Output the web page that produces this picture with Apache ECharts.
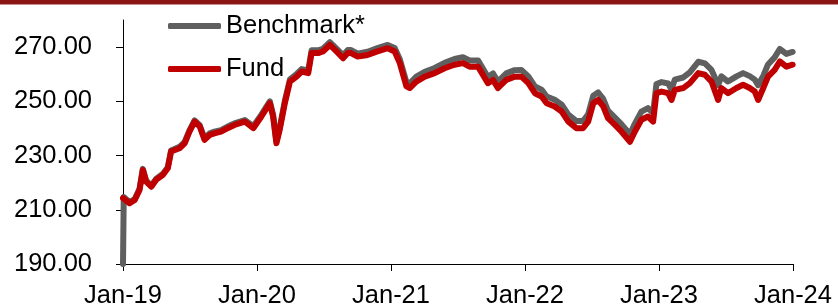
<!DOCTYPE html>
<html>
<head>
<meta charset="utf-8">
<script src="https://cdn.jsdelivr.net/npm/echarts@6/dist/echarts.min.js"></script>
<style>
html,body{margin:0;padding:0;background:#fff;}
#chart{width:838px;height:306px;}
</style>
</head>
<body>
<div id="chart"></div>
<script>
// ---- data ----
var fundDates = ["2019-01-01","2019-01-19","2019-02-02","2019-02-15","2019-02-24","2019-03-05","2019-03-19","2019-04-01","2019-04-20","2019-05-03","2019-05-12","2019-06-04","2019-06-18","2019-07-01","2019-07-15","2019-07-29","2019-08-11","2019-08-25","2019-09-07","2019-09-25","2019-10-13","2019-11-05","2019-11-29","2019-12-22","2020-01-13","2020-02-05","2020-02-14","2020-02-23","2020-03-03","2020-03-17","2020-03-31","2020-04-18","2020-05-02","2020-05-20","2020-05-29","2020-06-16","2020-06-29","2020-07-18","2020-08-05","2020-08-23","2020-09-05","2020-09-14","2020-10-02","2020-10-29","2020-11-25","2020-12-23","2021-01-11","2021-01-25","2021-02-12","2021-02-21","2021-03-11","2021-04-03","2021-04-30","2021-05-27","2021-06-23","2021-07-16","2021-08-03","2021-08-26","2021-09-22","2021-10-06","2021-10-19","2021-11-11","2021-12-04","2021-12-22","2022-01-10","2022-01-28","2022-02-15","2022-03-01","2022-03-23","2022-04-11","2022-04-29","2022-05-21","2022-06-08","2022-06-22","2022-07-06","2022-07-19","2022-08-02","2022-08-15","2022-09-03","2022-09-21","2022-10-14","2022-10-27","2022-11-14","2022-12-02","2022-12-16","2022-12-25","2023-01-08","2023-01-26","2023-02-04","2023-02-13","2023-03-08","2023-03-26","2023-04-18","2023-05-06","2023-05-24","2023-06-11","2023-06-20","2023-07-08","2023-07-31","2023-08-18","2023-09-05","2023-09-19","2023-09-28","2023-10-12","2023-10-25","2023-11-12","2023-11-26","2023-12-14","2023-12-31"];

var fundValues = [214.3,212.4,213.6,217.3,224.7,220.4,218.5,221.0,222.9,225.3,231.5,232.7,234.5,238.8,242.5,240.7,235.8,237.6,238.2,238.8,240.1,241.5,242.5,240.1,244.4,249.3,244.4,234.5,239.5,249.3,257.3,259.1,261.0,260.4,267.8,267.8,268.4,270.8,268.4,265.9,267.8,267.8,266.5,267.1,268.4,269.6,268.4,264.1,255.5,254.9,257.3,259.1,260.4,262.2,263.5,264.1,262.8,262.8,256.7,257.9,254.9,257.9,259.1,259.1,256.7,253.0,251.8,249.3,248.1,246.2,242.5,240.1,240.1,242.5,249.3,250.5,248.1,243.8,241.3,238.8,235.1,238.8,243.2,244.4,242.5,253.0,253.6,253.0,250.5,254.2,254.9,256.7,260.4,259.8,257.3,250.5,254.9,253.0,254.9,256.1,254.9,253.6,250.5,254.9,259.1,261.6,264.7,262.8,263.5];

var benchDates = ["2019-01-01","2019-01-03"].concat(fundDates.slice(1));

var benchValues = [190.0,214.7,212.8,214.0,217.7,225.1,220.8,218.9,221.4,223.3,225.7,231.9,233.2,235.0,239.3,243.0,241.2,236.4,238.2,238.8,239.4,240.7,242.1,243.1,240.8,245.1,250.0,245.1,235.2,240.2,250.1,258.1,260.0,261.9,261.4,268.8,268.8,269.4,271.8,269.4,267.0,268.9,268.9,267.6,268.3,269.6,270.8,269.7,265.5,257.1,256.6,259.1,260.9,262.3,264.2,265.6,266.3,265.1,265.1,259.0,260.3,257.3,260.3,261.5,261.6,259.2,255.5,254.3,251.8,250.6,248.8,245.1,242.7,242.7,245.2,252.1,253.3,250.9,246.6,244.0,241.5,237.9,241.7,246.2,247.5,245.7,256.4,257.1,256.6,254.3,258.0,258.8,260.7,264.6,264.0,261.6,256.0,259.2,257.3,259.2,260.4,259.3,258.0,256.0,259.4,263.6,266.2,269.3,267.5,268.2];

var yTickValues = [190, 210, 230, 250, 270];
var xTickYears = [2019, 2020, 2021, 2022, 2023, 2024];
var seriesNames = ["Benchmark*", "Fund"];

// ---- helpers ----
function toYearFrac(s) {
  var p = s.split("-");
  var y = +p[0], m = +p[1], d = +p[2];
  var start = Date.UTC(y, 0, 1), end = Date.UTC(y + 1, 0, 1);
  var t = Date.UTC(y, m - 1, d);
  return y + (t - start) / (end - start);
}
function pairs(dates, vals) {
  return dates.map(function (d, i) { return [toYearFrac(d), vals[i]]; });
}

var FONT = "'Liberation Sans', Arial, sans-serif";
var chart = echarts.init(document.getElementById("chart"), null, {renderer: "canvas"});
chart.setOption({
  animation: false,
  backgroundColor: "#ffffff",
  graphic: [
    {type: "rect", left: 0, top: 0, shape: {width: 838, height: 4}, style: {fill: "#8b1515"}},
    {type: "rect", left: 0, top: 4, shape: {width: 838, height: 1}, style: {fill: "#c98f8f"}}
  ],
  grid: {left: 123, right: 45, top: 20, bottom: 42, containLabel: false, outerBoundsMode: "none"},
  legend: {
    orient: "vertical",
    left: 163,
    top: 8,
    itemWidth: 53,
    itemHeight: 6,
    itemGap: 17,
    itemTextGap: 5,
    icon: "roundRect",
    textStyle: {fontFamily: FONT, fontSize: 25.5, color: "#000"},
    data: seriesNames
  },
  xAxis: {
    type: "value",
    min: xTickYears[0],
    max: xTickYears[xTickYears.length - 1],
    interval: 1,
    splitLine: {show: false},
    axisLine: {show: true, lineStyle: {color: "#000", width: 1}},
    axisTick: {show: true, inside: false, length: 7, lineStyle: {color: "#000", width: 1}},
    axisLabel: {
      fontFamily: FONT, fontSize: 25.5, color: "#000", margin: 19,
      formatter: function (v) { return "Jan-" + String(Math.round(v)).slice(2); }
    }
  },
  yAxis: {
    type: "value",
    min: 190,
    max: 280,
    interval: 20,
    splitLine: {show: false},
    axisLine: {show: true, lineStyle: {color: "#000", width: 1}},
    axisTick: {show: true, inside: false, length: 7, customValues: yTickValues, lineStyle: {color: "#000", width: 1}},
    axisLabel: {
      fontFamily: FONT, fontSize: 25.5, color: "#000", margin: 31,
      customValues: yTickValues,
      formatter: function (v) { return v.toFixed(2); }
    }
  },
  series: [
    {
      name: seriesNames[0], type: "line", showSymbol: false, symbol: "none",
      data: pairs(benchDates, benchValues),
      lineStyle: {color: "#5f5f5f", width: 6, cap: "round", join: "round"},
      itemStyle: {color: "#5f5f5f"}
    },
    {
      name: seriesNames[1], type: "line", showSymbol: false, symbol: "none",
      data: pairs(fundDates, fundValues),
      lineStyle: {color: "#c00000", width: 6, cap: "round", join: "round"},
      itemStyle: {color: "#c00000"}
    }
  ]
});
</script>
</body>
</html>
